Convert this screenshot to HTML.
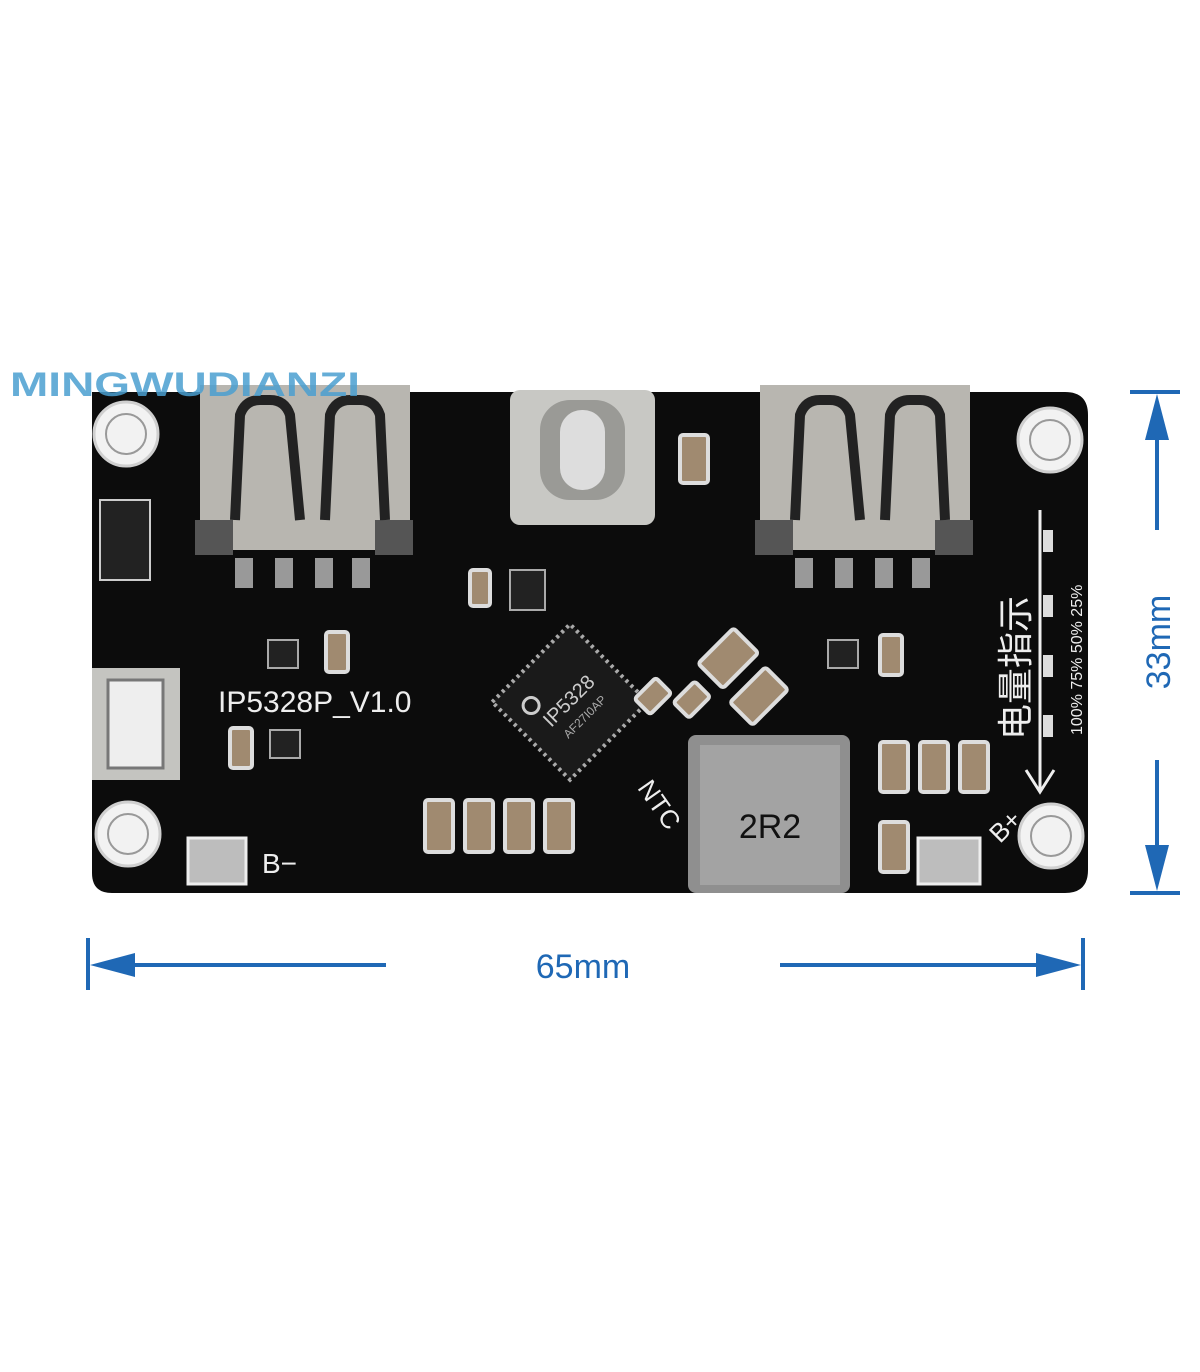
<!DOCTYPE html>
<html><head><meta charset="utf-8"><style>
html,body{margin:0;padding:0;background:#fff;width:1200px;height:1372px;overflow:hidden}
</style></head><body>
<svg width="1200" height="1372" viewBox="0 0 1200 1372" xmlns="http://www.w3.org/2000/svg" font-family="Liberation Sans, sans-serif">
<rect width="1200" height="1372" fill="#fff"/>
<path d="M110 392 H1065 Q1088 392 1088 415 V870 Q1088 893 1065 893 H112 Q92 893 92 873 V392 Z" fill="#0c0c0c"/>
<g fill="#f2f2f2" stroke="#cfcfcf" stroke-width="3">
<circle cx="126" cy="434" r="32"/><circle cx="1050" cy="440" r="32"/>
<circle cx="128" cy="834" r="32"/><circle cx="1051" cy="836" r="32"/>
</g>
<g fill="none" stroke="#999" stroke-width="2">
<circle cx="126" cy="434" r="20"/><circle cx="1050" cy="440" r="20"/>
<circle cx="128" cy="834" r="20"/><circle cx="1051" cy="836" r="20"/>
</g>
<rect x="200" y="385" width="210" height="165" fill="#b8b6b0"/>
<rect x="195" y="520" width="38" height="35" fill="#555"/><rect x="375" y="520" width="38" height="35" fill="#555"/>
<path d="M235 520 L240 415 Q245 400 260 400 L270 400 Q285 400 290 415 L300 520" fill="none" stroke="#222" stroke-width="10"/>
<path d="M325 520 L330 415 Q335 400 350 400 L360 400 Q375 400 380 415 L385 520" fill="none" stroke="#222" stroke-width="10"/>
<rect x="760" y="385" width="210" height="165" fill="#b8b6b0"/>
<rect x="755" y="520" width="38" height="35" fill="#555"/><rect x="935" y="520" width="38" height="35" fill="#555"/>
<path d="M795 520 L800 415 Q805 400 820 400 L830 400 Q845 400 850 415 L860 520" fill="none" stroke="#222" stroke-width="10"/>
<path d="M885 520 L890 415 Q895 400 910 400 L920 400 Q935 400 940 415 L945 520" fill="none" stroke="#222" stroke-width="10"/>
<g fill="#999"><rect x="235" y="558" width="18" height="30"/><rect x="275" y="558" width="18" height="30"/><rect x="315" y="558" width="18" height="30"/><rect x="352" y="558" width="18" height="30"/>
<rect x="795" y="558" width="18" height="30"/><rect x="835" y="558" width="18" height="30"/><rect x="875" y="558" width="18" height="30"/><rect x="912" y="558" width="18" height="30"/></g>
<rect x="510" y="390" width="145" height="135" rx="10" fill="#c8c8c4"/>
<rect x="540" y="400" width="85" height="100" rx="30" fill="#9a9a96"/>
<rect x="560" y="410" width="45" height="80" rx="22" fill="#ddd"/>
<rect x="92" y="668" width="88" height="112" fill="#c4c4c0"/>
<rect x="108" y="680" width="55" height="88" fill="#eee" stroke="#777" stroke-width="3"/>
<rect x="100" y="500" width="50" height="80" fill="#222" stroke="#ccc" stroke-width="2"/>
<g transform="translate(570 702) rotate(-45)">
<rect x="-55" y="-55" width="110" height="110" fill="#1a1a1a" stroke="#aaa" stroke-width="4" stroke-dasharray="3 4"/>
<text x="0" y="5" fill="#ccc" font-size="20" text-anchor="middle">IP5328</text>
<text x="0" y="25" fill="#aaa" font-size="12" text-anchor="middle">AF27I0AP</text>
<circle cx="-30" cy="-25" r="8" fill="none" stroke="#ccc" stroke-width="3"/>
</g>
<rect x="688" y="735" width="162" height="158" rx="8" fill="#8f8f8f"/>
<rect x="700" y="745" width="140" height="140" fill="#a3a3a3"/>
<text x="770" y="838" font-size="34" fill="#111" text-anchor="middle">2R2</text>
<g fill="#a08a70" stroke="#ddd" stroke-width="4">
<rect x="425" y="800" width="28" height="52" rx="3"/><rect x="465" y="800" width="28" height="52" rx="3"/><rect x="505" y="800" width="28" height="52" rx="3"/><rect x="545" y="800" width="28" height="52" rx="3"/>
<rect x="880" y="742" width="28" height="50" rx="3"/><rect x="920" y="742" width="28" height="50" rx="3"/><rect x="960" y="742" width="28" height="50" rx="3"/>
<rect x="880" y="822" width="28" height="50" rx="3"/>
<rect x="680" y="435" width="28" height="48" rx="3"/>
<rect x="880" y="635" width="22" height="40" rx="3"/>
<rect x="326" y="632" width="22" height="40" rx="3"/>
<rect x="230" y="728" width="22" height="40" rx="3"/>
<rect x="470" y="570" width="20" height="36" rx="3"/>
</g>
<g transform="translate(730 660) rotate(-45)" fill="#a08a70" stroke="#ddd" stroke-width="4">
<rect x="-25" y="-20" width="50" height="35" rx="3"/><rect x="-95" y="-40" width="30" height="22" rx="3"/><rect x="-70" y="-10" width="30" height="22" rx="3"/><rect x="-30" y="30" width="50" height="32" rx="3"/>
</g>
<rect x="188" y="838" width="58" height="46" fill="#bdbdbd" stroke="#eee" stroke-width="3"/>
<rect x="918" y="838" width="62" height="46" fill="#bdbdbd" stroke="#eee" stroke-width="3"/>
<g fill="#222" stroke="#aaa" stroke-width="2"><rect x="268" y="640" width="30" height="28"/><rect x="270" y="730" width="30" height="28"/><rect x="510" y="570" width="35" height="40"/><rect x="828" y="640" width="30" height="28"/></g>
<text x="218" y="712" fill="#eee" font-size="30">IP5328P_V1.0</text>
<text x="262" y="873" fill="#eee" font-size="28">B−</text>
<text x="620" y="800" fill="#eee" font-size="26" transform="rotate(55 640 810)">NTC</text>
<text x="990" y="840" fill="#eee" font-size="26" transform="rotate(-45 1000 830)">B+</text>
<line x1="1040" y1="510" x2="1040" y2="790" stroke="#eee" stroke-width="3"/>
<path d="M1026 770 L1040 792 L1054 770" fill="none" stroke="#eee" stroke-width="3"/>
<text transform="translate(1028 740) rotate(-90)" fill="#eee" font-size="36" font-family="Liberation Sans, Noto Sans CJK SC, sans-serif">电量指示</text>
<text transform="translate(1082 735) rotate(-90)" fill="#eee" font-size="16">100%  75%  50%  25%</text>
<g fill="#ddd"><rect x="1043" y="530" width="10" height="22"/><rect x="1043" y="595" width="10" height="22"/><rect x="1043" y="655" width="10" height="22"/><rect x="1043" y="715" width="10" height="22"/></g>
<text x="10" y="396" fill="#4a9fd0" fill-opacity="0.85" font-size="34" font-weight="bold" textLength="350" lengthAdjust="spacingAndGlyphs">MINGWUDIANZI</text>
<g stroke="#1f68b5" stroke-width="4" fill="#1f68b5">
<line x1="1130" y1="392" x2="1180" y2="392"/><line x1="1130" y1="893" x2="1180" y2="893"/>
<line x1="1157" y1="430" x2="1157" y2="530"/><line x1="1157" y1="760" x2="1157" y2="855"/>
<path d="M1145 440 L1157 394 L1169 440 Z" stroke="none"/><path d="M1145 845 L1157 891 L1169 845 Z" stroke="none"/>
<line x1="88" y1="938" x2="88" y2="990"/><line x1="1083" y1="938" x2="1083" y2="990"/>
<line x1="120" y1="965" x2="386" y2="965"/><line x1="780" y1="965" x2="1050" y2="965"/>
<path d="M135 953 L90 965 L135 977 Z" stroke="none"/><path d="M1036 953 L1081 965 L1036 977 Z" stroke="none"/>
</g>
<text x="583" y="978" fill="#1f68b5" font-size="34" text-anchor="middle">65mm</text>
<text transform="translate(1170 642) rotate(-90)" fill="#1f68b5" font-size="34" text-anchor="middle">33mm</text>
</svg>
</body></html>
